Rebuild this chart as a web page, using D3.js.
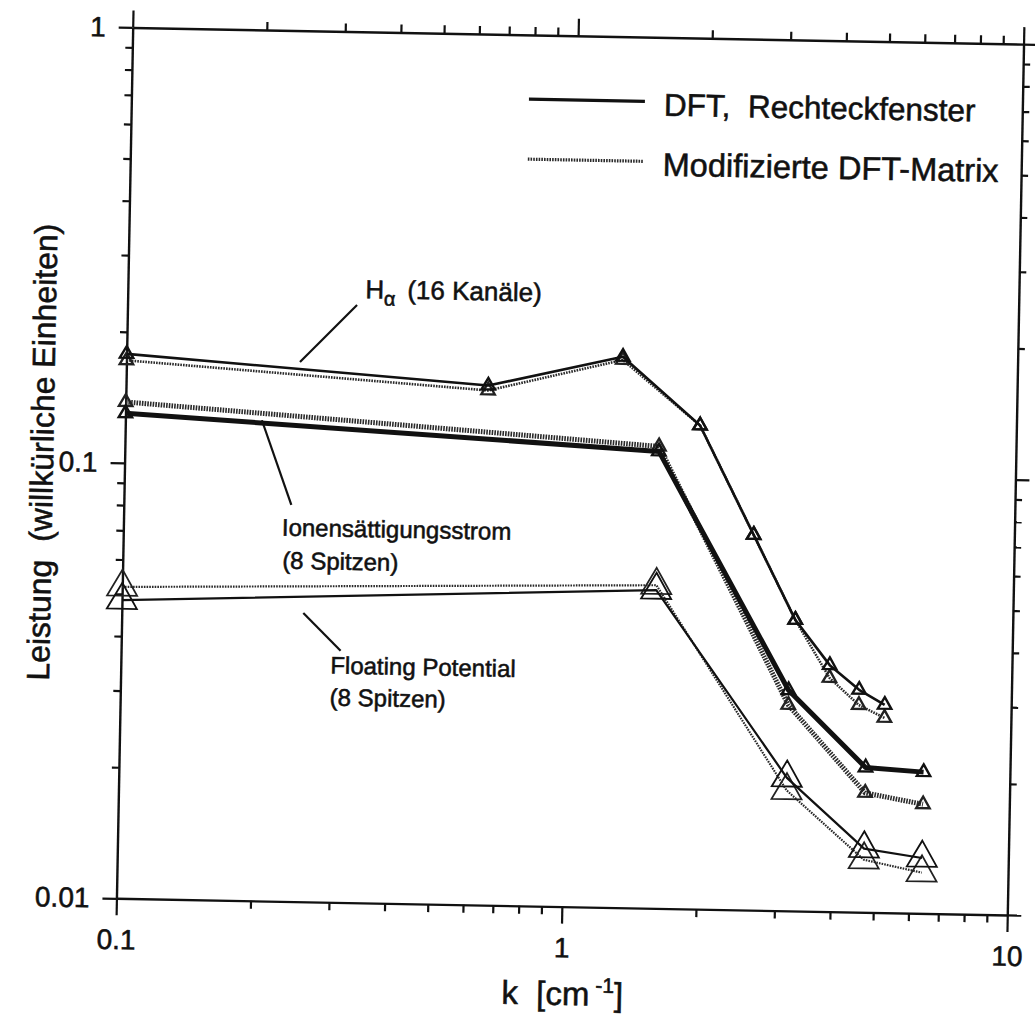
<!DOCTYPE html>
<html>
<head>
<meta charset="utf-8">
<script src="https://cdn.jsdelivr.net/npm/d3@7"></script>
<style>
  html, body { margin: 0; padding: 0; background: #fff; }
  svg { display: block; }
  text { font-family: "Liberation Sans", Arial, Helvetica, sans-serif; fill: #111; stroke: #111; stroke-width: 0.55px; white-space: pre; }
</style>
</head>
<body>
<script>
// Wave numbers k [cm^-1]; the first point (k = 0) sits on the left edge at 0.1
const kHalpha = [0.1, 0.65, 1.3, 1.95, 2.6, 3.25, 3.9, 4.55, 5.2];
const kProbe  = [0.1, 1.58, 3.16, 4.74, 6.4];

// H-alpha, 16 channels
const halphaDFT = [0.178, 0.156, 0.184, 0.129, 0.0727, 0.0466, 0.0368, 0.0324, 0.0300];
const halphaMod = [0.172, 0.152, 0.181, 0.129, 0.0727, 0.0466, 0.0344, 0.0299, 0.0280];

// Ion saturation current, 8 probes
const ionDFT = [0.130, 0.112, 0.0321, 0.0215, 0.0211];
const ionMod = [0.138, 0.115, 0.0297, 0.0188, 0.0178];

// Floating potential, 8 probes
const fpDFT = [0.0484, 0.0538, 0.0202, 0.0140, 0.0134];
const fpMod = [0.0519, 0.0552, 0.0189, 0.0132, 0.0124];

const xMajor = [0.1, 1, 10];
const xMajorLabels = ["0.1", "1", "10"];
const yMajor = [0.01, 0.1, 1];
const yMajorLabels = ["0.01", "0.1", "1"];

const legendLabels = ["DFT,  Rechteckfenster", "Modifizierte DFT-Matrix"];

const W = 1035, H = 1026;
const frame = { left: 124.5, right: 1015.5, top: 35.7, bottom: 906.7 };

const svg = d3.select("body").append("svg").attr("width", W).attr("height", H);
svg.append("rect").attr("width", W).attr("height", H).attr("fill", "#fff");

// the whole sheet sits slightly tilted
const g = svg.append("g").attr("transform", "rotate(1.07,570,471)");

const x = d3.scaleLog().domain([0.1, 10]).range([frame.left, frame.right]);
const y = d3.scaleLog().domain([0.01, 1]).range([frame.bottom, frame.top]);

const isMajor = (arr, d) => arr.some(m => Math.abs(Math.log10(m) - Math.log10(d)) < 1e-6);
const MAJ = 14, MIN = 7;

function styleAxis(sel) {
  sel.select(".domain").attr("stroke", "#111").attr("stroke-width", 2.4);
  sel.selectAll(".tick line").attr("stroke", "#111").attr("stroke-width", 2.2);
  sel.selectAll(".tick text").style("font-size", "28px").attr("fill", "#111");
}

const xTicks = x.ticks();
const yTicks = y.ticks();

// bottom
const gB = g.append("g").attr("transform", `translate(0,${frame.bottom})`)
  .call(d3.axisBottom(x).tickValues(xTicks).tickSizeOuter(0).tickSizeInner(MIN)
    .tickFormat(d => { const i = xMajor.findIndex(m => isMajor([m], d)); return i >= 0 ? xMajorLabels[i] : ""; }));
gB.selectAll(".tick line").attr("y2", d => isMajor(xMajor, d) ? MAJ + 3 : MIN + 1);
gB.selectAll(".tick text").attr("y", 31);
styleAxis(gB);

// top
const gT = g.append("g").attr("transform", `translate(0,${frame.top})`)
  .call(d3.axisTop(x).tickValues(xTicks).tickSizeOuter(0).tickSizeInner(MIN).tickFormat(""));
gT.selectAll(".tick line").attr("y2", d => isMajor(xMajor, d) ? -MAJ - 3 : -MIN - 1);
styleAxis(gT);

// left
const gL = g.append("g").attr("transform", `translate(${frame.left},0)`)
  .call(d3.axisLeft(y).tickValues(yTicks).tickSizeOuter(0).tickSizeInner(MIN)
    .tickFormat(d => { const i = yMajor.findIndex(m => isMajor([m], d)); return i >= 0 ? yMajorLabels[i] : ""; }));
gL.selectAll(".tick line").attr("x2", d => isMajor(yMajor, d) ? -MAJ : -MIN);
gL.selectAll(".tick text").attr("x", -27);
styleAxis(gL);

// right
const gR = g.append("g").attr("transform", `translate(${frame.right},0)`)
  .call(d3.axisRight(y).tickValues(yTicks).tickSizeOuter(0).tickSizeInner(MIN).tickFormat(""));
gR.selectAll(".tick line").attr("x2", d => isMajor(yMajor, d) ? MAJ : MIN);
styleAxis(gR);

// axis titles
g.append("text")
  .attr("transform", "translate(53,462) rotate(-90)")
  .attr("text-anchor", "middle")
  .style("font-size", "32px")
  .text("Leistung  (willkürliche Einheiten)");

const xt = g.append("text")
  .attr("x", 572).attr("y", 1005)
  .attr("text-anchor", "middle")
  .style("font-size", "33px");
xt.append("tspan").text("k  [cm");
xt.append("tspan").attr("dy", -13).style("font-size", "21px").text(" -1");
xt.append("tspan").attr("dy", 13).text("]");

// series
const line = d3.line().x(d => x(d.k)).y(d => y(d.v));
const pts = (ks, vs) => ks.map((k, i) => ({ k, v: vs[i] }));

const DOTS = "1.6,1.1";
const series = [
  { ks: kProbe,  vs: fpMod,     dotted: true,  w: 2.2, mark: 390, mw: 1.8 },
  { ks: kProbe,  vs: fpDFT,     dotted: false, w: 2.2, mark: 390, mw: 1.8 },
  { ks: kProbe,  vs: ionMod,    dotted: true,  w: 5,   mark: 78,  mw: 2.4 },
  { ks: kProbe,  vs: ionDFT,    dotted: false, w: 5,   mark: 78,  mw: 2.4 },
  { ks: kHalpha, vs: halphaMod, dotted: true,  w: 2.6, mark: 78,  mw: 2.4 },
  { ks: kHalpha, vs: halphaDFT, dotted: false, w: 2.6, mark: 78,  mw: 2.4 }
];

series.forEach(s => {
  const data = pts(s.ks, s.vs);
  g.append("path")
    .datum(data)
    .attr("d", line)
    .attr("fill", "none")
    .attr("stroke", s.dotted ? "#2a2a2a" : "#111")
    .attr("stroke-width", s.w)
    .attr("stroke-dasharray", s.dotted ? DOTS : null)
    .attr("stroke-linejoin", "round");
  g.selectAll(null)
    .data(data)
    .enter().append("path")
    .attr("transform", d => `translate(${x(d.k)},${y(d.v)})`)
    .attr("d", d3.symbol(d3.symbolTriangle, s.mark))
    .attr("fill", "none")
    .attr("stroke", s.dotted ? "#222" : "#111")
    .attr("stroke-width", s.mw);
});

// curve labels with leader lines
function leader(x1, y1, x2, y2) {
  g.append("line").attr("x1", x1).attr("y1", y1).attr("x2", x2).attr("y2", y2)
    .attr("stroke", "#111").attr("stroke-width", 2.2);
}
leader(354, 309, 298, 367);
leader(261, 426, 292, 510);
leader(306, 618, 344, 655);

const ha = g.append("text").attr("y", 302).style("font-size", "26px");
ha.append("tspan").attr("x", 362).text("H");
ha.append("tspan").attr("dy", 7).style("font-size", "20px").text("α");
ha.append("tspan").attr("dy", -7).attr("x", 404).text("(16 Kanäle)");

g.append("text").attr("x", 283).attr("y", 541).style("font-size", "24px").text("Ionensättigungsstrom");
g.append("text").attr("x", 284).attr("y", 574).style("font-size", "24px").text("(8 Spitzen)");
g.append("text").attr("x", 334).attr("y", 678).style("font-size", "24px").text("Floating Potential");
g.append("text").attr("x", 334).attr("y", 710).style("font-size", "24px").text("(8 Spitzen)");

// legend
const legY = [100, 160];
legendLabels.forEach((lab, i) => {
  g.append("line")
    .attr("x1", 522).attr("x2", 638).attr("y1", legY[i]).attr("y2", legY[i])
    .attr("stroke", i === 0 ? "#111" : "#2a2a2a")
    .attr("stroke-width", 3.2)
    .attr("stroke-dasharray", i === 0 ? null : DOTS);
  g.append("text")
    .attr("x", 657).attr("y", legY[i] + 14)
    .style("font-size", i === 0 ? "31.5px" : "32.5px")
    .text(lab);
});
</script>
</body>
</html>
